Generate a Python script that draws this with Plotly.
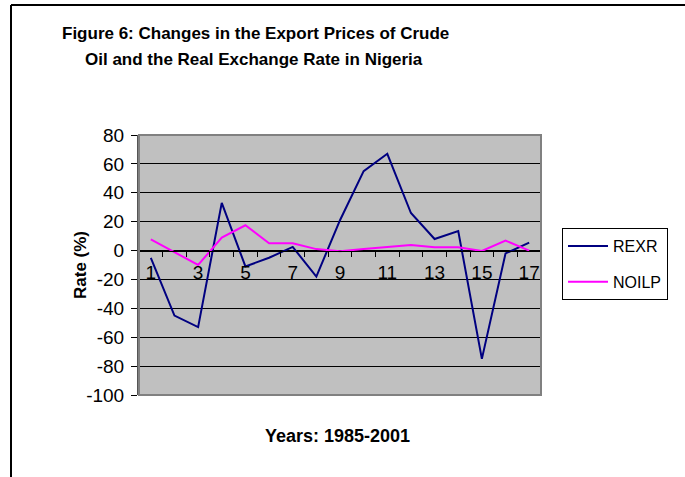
import plotly.graph_objects as go

years = list(range(1, 18))
rexr = [-5, -45, -53, 33, -11, -5, 2.5, -18, 21, 55, 67, 26, 8, 13.5, -75, -2, 5.5]
noilp = [7.8, -1, -10, 9, 17.5, 5, 5, 1, -0.5, 1, 2.3, 3.9, 2.3, 2.3, -0.3, 6.9, 0]
y_ticks = list(range(-100, 81, 20))
y_ticklabels = [str(v) for v in y_ticks]
x_tickvals = list(range(1, 18, 2))
x_ticklabels = [str(v) for v in x_tickvals]

W, H = 685, 477
L, R, T, B = 139, 541, 135, 395
pw, ph = R - L, B - T
def px(x):
    return (x - L) / pw
def py(y):
    return (B - y) / ph

FONT = "Liberation Sans, Arial, sans-serif"

fig = go.Figure()
fig.add_trace(go.Scatter(x=years, y=rexr, mode="lines", name="REXR",
                         line=dict(color="#000080", width=2), legendgroup="a"))
fig.add_trace(go.Scatter(x=years, y=noilp, mode="lines", name="NOILP",
                         line=dict(color="#FF00FF", width=2), legendgroup="b"))

fig.update_layout(
    width=W, height=H,
    margin=dict(l=L, r=W - R, t=T, b=H - B, pad=0),
    paper_bgcolor="white",
    plot_bgcolor="#C0C0C0",
    font=dict(family=FONT, size=15, color="black"),
    showlegend=True,
    legend=dict(x=px(562), y=py(228), xanchor="left", yanchor="top",
                bordercolor="black", borderwidth=1, bgcolor="white",
                font=dict(size=16), tracegroupgap=12, itemwidth=40,
                entrywidth=95),
    xaxis=dict(range=[0.5, 17.5], tickmode="array",
               tickvals=x_tickvals, ticktext=x_ticklabels,
               ticks="", showgrid=False, zeroline=False, automargin=False,
               showline=True, linecolor="black", linewidth=1,
               anchor="free", position=py(250.6), ticklabelstandoff=5,
               minor=dict(tickmode="linear", tick0=0.5, dtick=1, ticks="outside",
                          ticklen=5, tickcolor="black", showgrid=False),
               tickfont=dict(size=19)),
    yaxis=dict(range=[-100, 80], tickmode="array", tickvals=y_ticks, ticktext=y_ticklabels,
               ticks="outside", ticklen=6, tickcolor="black", automargin=False,
               showgrid=True, gridcolor="black", gridwidth=1, ticklabelstandoff=3,
               zeroline=False, showline=True, linecolor="#555555", linewidth=2,
               tickfont=dict(size=19)),
    annotations=[
        dict(text="<b>Figure 6: Changes in the Export Prices of Crude</b>",
             xref="paper", yref="paper", x=px(255), y=py(33), xanchor="center", yanchor="middle",
             showarrow=False, font=dict(size=17)),
        dict(text="<b>Oil and the Real Exchange Rate in Nigeria</b>",
             xref="paper", yref="paper", x=px(254), y=py(60), xanchor="center", yanchor="middle",
             showarrow=False, font=dict(size=17)),
        dict(text="<b>Rate (%)</b>", xref="paper", yref="paper", x=px(80), y=py(265),
             xanchor="center", yanchor="middle", textangle=-90, showarrow=False,
             font=dict(size=17)),
        dict(text="<b>Years: 1985-2001</b>", xref="paper", yref="paper", x=px(337), y=py(436),
             xanchor="center", yanchor="middle", showarrow=False, font=dict(size=18)),
    ],
    shapes=[
        dict(type="rect", xref="paper", yref="paper", x0=0, x1=1, y0=0, y1=1,
             line=dict(color="#808080", width=2), layer="above"),
        dict(type="line", xref="paper", yref="paper", x0=px(11), x1=px(700), y0=py(5), y1=py(5),
             line=dict(color="black", width=2)),
        dict(type="line", xref="paper", yref="paper", x0=px(11), x1=px(11), y0=py(5), y1=py(490),
             line=dict(color="black", width=2)),
    ],
)

fig.write_html("out.html", config={"displayModeBar": False},
               post_script="document.body.style.margin='0px';")
